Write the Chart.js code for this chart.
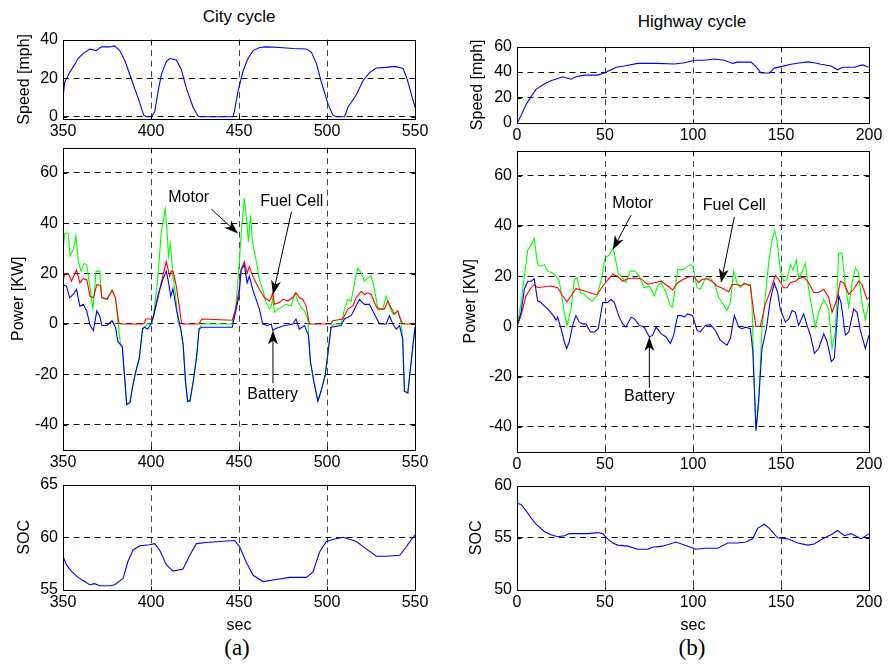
<!DOCTYPE html>
<html>
<head>
<meta charset="utf-8">
<script src="https://cdn.jsdelivr.net/npm/chart.js@4.4.1/dist/chart.umd.min.js"></script>
<style>
body{margin:0;background:#fff;width:888px;height:664px;position:relative;overflow:hidden;font-family:"Liberation Sans",Arial,sans-serif;}
canvas{position:absolute;}
.lbl{position:absolute;transform:translate(-50%,-50%);white-space:nowrap;font-size:17px;color:#000;}
.cap{font-family:"Liberation Serif","Times New Roman",serif;font-size:23px;}
</style>
</head>
<body>
<div class="lbl" style="left:239px;top:17px">City cycle</div>
<div class="lbl" style="left:692px;top:22px">Highway cycle</div>
<div class="lbl cap" style="left:237px;top:648px">(a)</div>
<div class="lbl cap" style="left:692px;top:648px">(b)</div>
<script>
// ---- city cycle (350..550 s) ----
const cityTicksX = [350, 400, 450, 500, 550];
const citySpeedTicks = [0, 20, 40];
const powerTicks = [-40, -20, 0, 20, 40, 60];
const citySocTicks = [55, 60, 65];

const citySpeed = [[350,9.8],[351,18],[353.8,22.9],[356.6,27],[358.5,30.2],[361.4,32.7],[365.2,35.1],[368.9,34.3],[371.8,36.2],[376.5,36.2],[379.4,36.7],[382.2,34.3],[385,29.4],[387.9,22],[390.7,14.7],[393.6,7.3],[395.8,0.8],[397.3,0],[400.2,0],[402.1,2.4],[404,13],[405.9,22],[408.7,28.6],[410.6,30.2],[414.4,29.4],[417.2,24.5],[420.1,14.7],[423.9,4.9],[426.7,0.3],[427.7,0],[446.6,0],[447.5,3.3],[449.4,13],[452.3,23.7],[455.1,30.2],[458,34.3],[461.7,35.9],[465.5,36.2],[473.1,35.9],[480.7,35.4],[488.3,35.1],[491.1,33.5],[493.9,27.8],[496.8,18],[500.6,6.5],[503.4,0.8],[505.3,0],[510,0],[511.9,4.9],[516.7,11.4],[520.5,18.8],[524.2,22.9],[528,25.3],[533.7,25.6],[538.4,26.1],[543.2,25],[545.5,19.6],[548,11.4],[550,4.9]];

const cityMotor = [[350,29],[351,36],[353,36],[354,27],[356,30],[357.3,35],[358.7,25],[360.2,21],[362,24],[363.5,23.5],[365,16],[367,6],[368.8,21],[370.8,21],[372,10.5],[375,10],[378,13.5],[379.8,10],[381.2,1],[382.7,-8.5],[383.7,-9],[384.6,-17.6],[386.2,-32],[388.1,-31],[389.4,-25.4],[391.3,-19],[393.3,-13.7],[395.2,-2],[396.2,-1.3],[398,0],[400.5,0],[401.5,4],[403.8,17.6],[405.8,36],[408.1,45.6],[409.2,36],[410,27],[411,32],[412.5,19],[413.8,12.4],[415.4,0.6],[416.9,-2],[418.3,-8.5],[419.6,-22.8],[420.8,-30.6],[422.1,-30.6],[424,-22.8],[426,-12.4],[427.3,-2],[428.8,0],[446,0],[448,5],[450,23],[451.3,36],[453,50],[454.5,40],[455.4,32.6],[456.5,43],[457.8,32],[459.7,25.4],[461.6,17.6],[463.5,13.7],[465.4,8.5],[467.3,5.9],[468.3,7],[469.2,10.4],[470.1,4.6],[472,5.9],[473.9,6.5],[476.8,7.8],[479.6,7.2],[481.9,12.4],[483.4,9],[485.3,6.5],[487.2,5.2],[489.1,2],[489.5,-4.6],[490.6,-15],[492.5,-22.8],[494.8,-30.6],[496.6,-26.7],[499,-20],[500.4,-12.4],[502.3,-1.3],[504,0],[508,0],[509.9,5.9],[511.8,9.8],[513.7,9],[515.6,16.3],[517.5,22.2],[519.4,20.2],[521.3,17],[523.2,18.3],[525.1,19],[527,13.7],[528.8,6.5],[531.7,5.9],[533.6,11],[535.5,7.2],[537.4,3.9],[539,4.6],[540.2,5.2],[541.5,2],[542.2,-0.6],[543,-5.9],[544,-26.7],[545.9,-27.4],[547.8,-15],[550,-1.3]];

const cityFuelCell = [[350,17],[351,20],[353,20],[354.8,17],[357.7,21.5],[359.6,16.3],[361.5,18],[363.5,17.6],[365.4,11],[367.3,10.4],[369.2,15.6],[371.2,15.3],[372.1,10.4],[375,9.8],[377.9,13.4],[379.8,10.4],[381.7,0.6],[382.5,0],[396,0],[397,2],[401,2],[403.8,9.8],[405.8,16.3],[408.7,24.8],[410.6,19],[411.5,21],[412.5,21],[414.4,15],[416.3,5.9],[417.3,0.6],[418,0],[427.3,0],[428.8,2],[446.2,1.5],[448,5.9],[450,13.5],[451.2,21.5],[453,24.8],[454.6,20.2],[455.9,22.8],[457.8,19],[459.7,16.3],[461.6,13.7],[464.5,10.4],[467.3,9.1],[468.3,10.4],[469.2,12.4],[470.1,7.8],[473,8.5],[474.9,9.8],[477.7,9.1],[480.5,10.4],[482.4,12.4],[484.3,10.4],[486.2,9.8],[488.1,7.2],[490,0],[502.3,0],[503.3,1.3],[509,2],[511.8,5.9],[514.6,7.2],[516.5,10.4],[519.4,13],[521.3,11.7],[523.2,12.4],[525.1,11.7],[527,8.5],[528.8,5.9],[532.6,5.9],[534.5,9.1],[536.4,6.5],[538.3,3.9],[540.2,5.2],[541.5,2.6],[543,0],[550,0]];

const cityBattery = [[350,15.6],[352,15],[353.8,10.4],[355.8,11.7],[357.7,13.7],[359.6,7],[361.5,7.8],[363.5,5.2],[365.4,-0.6],[367.3,-2.6],[369.2,5.2],[370.8,3.3],[372.1,-0.6],[375,-0.6],[377.9,1.3],[379.8,-1.3],[381.2,-7],[383.7,-9],[384.6,-17.6],[386.2,-32],[388.1,-31],[389.4,-25.4],[391.3,-19],[393.3,-13.7],[395.2,-2],[396.2,-1.3],[398.1,-2],[400,0],[401.5,3.3],[403.8,11],[406.7,17.6],[408.7,21],[410,16.3],[411.2,11],[412.5,14],[414.4,5.9],[416.9,-2],[418.3,-8.5],[419.6,-22.8],[420.8,-30.6],[422.1,-30.6],[424,-22.8],[426,-12.4],[427.3,-2],[428.8,-1.3],[446.2,-1.3],[448,4.6],[450,11],[451.2,21.5],[453,23.5],[454.6,16.3],[455.9,19],[457.8,13.7],[459.7,9.8],[461.6,5.9],[463.5,0],[466.3,-0.6],[468.3,0],[469.2,-2.6],[470.1,-2],[473,-1.3],[475.8,-0.6],[477.7,-0.4],[480.5,0],[482.4,2],[484.3,-2],[487.2,-0.6],[489.5,-4.6],[490.6,-15],[492.5,-22.8],[494.8,-30.6],[496.6,-26.7],[499,-20.2],[500.4,-12.4],[502.3,-1.3],[508,-0.6],[509.9,2],[513.7,3.3],[515.6,5.9],[518.4,9.8],[521.3,7.8],[524.1,7.8],[527,3.9],[529.8,0],[533.6,0],[535.5,3.3],[537.4,0],[539.3,-2],[541.2,-0.6],[543,-5.9],[544,-26.7],[545.9,-27.4],[547.8,-15],[550,-1.3]];

const citySoc = [[350,58.2],[351.9,57.4],[354.7,56.8],[358.5,56.2],[362.3,55.8],[365.2,55.5],[368,55.6],[370.8,55.4],[376.5,55.4],[379.4,55.5],[384.1,56.1],[386.9,57.7],[389.8,58.8],[393.6,59.2],[399.2,59.3],[402.1,59.4],[404.9,58.8],[408.7,57.4],[412.5,56.8],[418.2,57],[422,58.3],[425.8,59.4],[431.4,59.5],[439,59.6],[447.5,59.7],[450.4,59.1],[454.2,57.6],[458,56.4],[463.6,55.8],[471.2,56],[478.8,56.2],[488.3,56.2],[492,56.7],[495.8,58.6],[499.6,59.6],[503.4,59.8],[509.1,60],[516.7,59.6],[522.3,58.9],[528,58.2],[533.7,58.2],[541.3,58.3],[545.1,59.1],[548,59.8],[550,60.2]];

// ---- highway cycle (0..200 s) ----
const hwTicksX = [0, 50, 100, 150, 200];
const hwSpeedTicks = [0, 20, 40, 60];
const hwSocTicks = [50, 55, 60];

const hwSpeed = [[0,0],[2.3,5.7],[5.1,14.4],[8,20.7],[10.8,26.4],[15.5,30.6],[19.3,33.1],[23.1,34.9],[25.9,36.3],[30.7,34.4],[33.5,36.3],[38.3,37.6],[45.8,37.6],[49.6,39.3],[53.4,41.8],[56.3,43.8],[61,44.8],[68.6,46.8],[79.9,46.8],[89.4,46.3],[95.1,47.3],[100.8,49.3],[106.4,49.3],[112.1,50.3],[117.8,49.3],[122.5,46.8],[125.4,47.8],[133,47.8],[135.8,44.3],[138.6,39.3],[143.4,39.3],[146.2,43.1],[150,44.3],[155.7,46.1],[161.4,47.3],[165.2,48],[168.9,47.3],[172.7,46.1],[178.4,44.8],[182.2,41.8],[185,43.8],[191.7,43.8],[196.4,45.6],[200,43.8]];

const hwMotor = [[0,0],[2.3,9.5],[4.2,20],[6.1,30.5],[8,32.4],[9.8,35],[11.7,24.6],[13.6,23.9],[15.5,24.6],[17.4,22],[20.3,21.3],[22.2,20],[24,18],[25,14],[26.9,5.6],[28.4,0.4],[30.7,6.9],[32.6,18.7],[34.1,19.3],[36,13.5],[38.3,12.8],[41.1,10.8],[43,10.2],[45.5,12.2],[48.1,19.3],[50,27.2],[52.5,28.5],[54.4,31.1],[55.3,29.2],[57.6,20.9],[59.1,20],[61.9,17.4],[64.4,22],[67,22],[69.5,20],[72.3,15.4],[75.2,16.1],[78,12.2],[79.9,16.1],[81.8,17.4],[84.7,13.5],[87.1,8.2],[88.4,7.6],[91.3,22.6],[94.1,22.6],[97,23.9],[98.5,24.6],[100,23.9],[102.3,15.4],[104.2,14.8],[107,19.3],[109.9,19.3],[112.7,16.1],[114.6,11.6],[116.5,9.5],[119.3,6.3],[121.2,9.5],[123.1,22],[125,17.4],[126.9,15.4],[128.8,17.4],[130.7,16.7],[132.6,16.7],[133.5,9.5],[134.5,-16.6],[135.8,-41.4],[137.3,-29.7],[139.2,-0.9],[141.1,12.2],[143,25.2],[144.9,34.4],[146.4,38.3],[147.7,34.4],[149.6,22.6],[151.5,18],[153.4,18.7],[155.3,24.6],[156.8,22.6],[158.7,26.5],[160,19.3],[161.9,21.3],[163.8,25.2],[165.2,17.4],[166.7,10.8],[169.5,-0.3],[171.4,5.6],[174.3,10.8],[177.1,6.9],[179,-8.8],[180.9,-2],[182.8,29.2],[184.7,29.2],[186.6,16.1],[188.5,7.8],[190.4,17.4],[192.3,23.3],[194.1,21.3],[196,9.5],[197.9,2.6],[200,9.5]];

const hwFuelCell = [[0,0],[2.3,4.3],[5.1,12.2],[8,15.4],[9.8,16.7],[11.7,15.4],[15.5,15.8],[19.3,16.1],[23.1,15.4],[25.9,12.2],[28.4,9.8],[30.7,12.2],[33.5,15],[36.4,14.5],[40.2,13.7],[43.9,12.8],[45.8,12.8],[48.7,16.1],[51.5,18.4],[54.4,20.7],[57.2,20],[60,18],[62.9,19],[66.7,19.3],[70.5,19],[74.2,16.7],[78,17.4],[81.8,18],[85.6,16.1],[88.4,14.5],[91.3,17.4],[95.1,19],[98.9,20],[100.4,20],[103.2,17.4],[105.1,18.7],[108,19],[110.8,18],[113.7,16.1],[117.4,15],[120.3,13.7],[122.2,16.7],[125,16.7],[126.9,16.1],[129.8,17],[132.6,16.1],[134.5,5.6],[135.8,0],[138.3,0],[141.1,8.9],[144,14.1],[146.8,20.3],[148.7,18.7],[151.5,15.4],[153.4,15.4],[155.3,17.4],[158.2,18],[160,19],[162.9,19.7],[165.7,17.4],[168.6,13.5],[171.4,13.5],[174.3,14.8],[177.1,11.5],[179,5.6],[181.8,10.8],[183.7,18],[185.6,17.4],[188.5,12.8],[191.3,14.8],[194.1,18],[196,16.7],[198.9,10.8],[200,11.5]];

const hwBattery = [[0,0],[2.3,5.6],[4.2,14.8],[6.1,18],[8,18],[9.8,19],[11.7,10.2],[13.6,9.5],[15.5,8.2],[18.4,6.3],[21.2,3.7],[22.2,2.4],[23.1,3.7],[25,-0.9],[26.9,-6.1],[28.2,-8.8],[29.7,-6.1],[31.6,0.4],[33.5,4.3],[35.4,1.7],[37.3,1],[39.2,1],[41.7,-2.2],[43.9,-2.2],[46.2,-0.9],[48.7,9.5],[51.5,9.5],[53.4,10.8],[55.3,9.5],[58.1,3.7],[60,1],[61.9,-0.3],[64.8,3.7],[66.7,3],[69.5,0.4],[72.3,-0.3],[75.2,-4.2],[77.1,-3.5],[79,-0.3],[81.8,-2.9],[84.7,-4.2],[87.1,-6.8],[89,-3.5],[91.3,4.3],[93.2,4.3],[95.1,3.7],[97,5],[99.8,4.3],[102.3,-1.6],[104.2,-2.2],[107,0.4],[109.9,0.7],[112.7,-1.6],[115.5,-5.5],[119.3,-7.5],[121.2,-4.8],[123.5,4.3],[126,-0.3],[127.9,-0.9],[129.8,-0.3],[132.6,-0.9],[134,-10],[135.8,-41.4],[137.3,-29.7],[139.2,-8.8],[141.7,-0.9],[144,10.8],[146.2,17.4],[148.1,13.5],[149.6,6.9],[152.5,1.7],[154.4,3],[156.3,6.3],[158.2,5.6],[160,0.4],[162.9,5],[164.8,0.4],[166.7,-3.5],[169,-10.7],[171.4,-8.8],[174.3,-2.9],[176.2,-6.1],[178.6,-14],[180.3,-12.7],[182.8,12.2],[184.1,9.5],[186.6,-3.5],[188.5,-2.2],[191.3,6.9],[193.2,5.6],[195.1,-1.6],[197.9,-8.8],[200,-3.5]];

const hwSoc = [[0,58.3],[2.3,58.2],[5.1,57.6],[8,56.9],[10.8,56.3],[15.5,55.6],[19.3,55.3],[23.1,55.1],[26.9,55.2],[29.7,55.4],[34.5,55.4],[40.2,55.4],[45.8,55.5],[48.7,55.4],[51.5,54.9],[54.4,54.5],[57.2,54.3],[62.9,54.2],[68.6,53.9],[74.2,53.9],[77.1,54.1],[82.8,54.2],[90.3,54.6],[95.1,54.3],[101.7,53.9],[106.4,54],[114,54],[119.7,54.5],[125.4,54.5],[130.1,54.6],[133.9,54.9],[136.7,55.9],[140.5,56.3],[143.4,55.9],[148.1,55],[153.8,54.9],[159.5,54.5],[165.2,54.3],[168.9,54.4],[173.7,54.9],[178.4,55.3],[182.2,55.7],[186,55.2],[189.8,55.4],[195.5,54.9],[200,55.4]];

const BLUE = '#0000ff', RED = '#ff0000', GREEN = '#00ff00';
const FONT = '"Liberation Sans", Arial, sans-serif';

Chart.defaults.font.family = FONT;
Chart.defaults.font.size = 16;
Chart.defaults.color = '#000';

// arrows + labels, inward ticks and the closed box around the plot area
const matlabPlugin = {
  id: 'matlab',
  afterDatasetsDraw(chart, args, opts) {
    const ctx = chart.ctx, sx = chart.scales.x, sy = chart.scales.y;
    ctx.save();
    ctx.fillStyle = '#000';
    ctx.strokeStyle = '#000';
    ctx.lineWidth = 1;
    ctx.font = '16px ' + FONT;
    ctx.textAlign = 'center';
    ctx.textBaseline = 'middle';
    (opts.notes || []).forEach(n => {
      ctx.fillText(n.text, sx.getPixelForValue(n.at[0]), sy.getPixelForValue(n.at[1]));
      const x0 = sx.getPixelForValue(n.from[0]), y0 = sy.getPixelForValue(n.from[1]);
      const x1 = sx.getPixelForValue(n.to[0]), y1 = sy.getPixelForValue(n.to[1]);
      const a = Math.atan2(y1 - y0, x1 - x0), c = Math.cos(a), s = Math.sin(a);
      ctx.beginPath();
      ctx.moveTo(x0, y0);
      ctx.lineTo(x1 - 9 * c, y1 - 9 * s);
      ctx.stroke();
      ctx.beginPath();
      ctx.moveTo(x1, y1);
      ctx.lineTo(x1 - 14 * c + 5 * s, y1 - 14 * s - 5 * c);
      ctx.lineTo(x1 - 10 * c, y1 - 10 * s);
      ctx.lineTo(x1 - 14 * c - 5 * s, y1 - 14 * s + 5 * c);
      ctx.closePath();
      ctx.fill();
    });
    ctx.restore();
  },
  afterDraw(chart) {
    const {ctx, chartArea: a} = chart, sx = chart.scales.x, sy = chart.scales.y;
    const l = Math.round(a.left) + 0.5, t = Math.round(a.top) + 0.5;
    const r = Math.round(a.right) + 0.5, b = Math.round(a.bottom) + 0.5;
    ctx.save();
    ctx.strokeStyle = '#000';
    ctx.lineWidth = 1;
    ctx.beginPath();
    sx.ticks.forEach(tk => {
      const px = Math.round(sx.getPixelForValue(tk.value)) + 0.5;
      ctx.moveTo(px, b); ctx.lineTo(px, b - 4);
      ctx.moveTo(px, t); ctx.lineTo(px, t + 4);
    });
    sy.ticks.forEach(tk => {
      const py = Math.round(sy.getPixelForValue(tk.value)) + 0.5;
      ctx.moveTo(l, py); ctx.lineTo(l + 4, py);
      ctx.moveTo(r, py); ctx.lineTo(r - 4, py);
    });
    ctx.stroke();
    ctx.strokeRect(l, t, r - l, b - t);
    ctx.restore();
  }
};

function pts(arr) {
  return arr.map(p => ({x: p[0], y: p[1]}));
}

function line(arr, color) {
  return {data: pts(arr), borderColor: color, borderWidth: 1.1, pointRadius: 0, tension: 0, fill: false};
}

// dashed grid only inside the box; the edges are drawn by the frame
function innerGrid(min, max, color) {
  return c => (c.tick && (c.tick.value <= min || c.tick.value >= max)) ? 'rgba(0,0,0,0)' : color;
}

function makePanel(p) {
  const padTop = 10;
  const w = 444;
  const h = (p.bottom - p.top) + padTop + p.xh;
  const cv = document.createElement('canvas');
  cv.width = w;
  cv.height = h;
  cv.style.left = p.left + 'px';
  cv.style.top = (p.top - padTop) + 'px';
  cv.style.width = w + 'px';
  cv.style.height = h + 'px';
  document.body.appendChild(cv);

  const border = {display: false, dash: [6, 4.5]};

  return new Chart(cv, {
    type: 'line',
    data: {datasets: p.datasets},
    options: {
      responsive: false,
      animation: false,
      devicePixelRatio: 1,
      layout: {padding: {top: padTop, right: p.padR, bottom: 0, left: 0}},
      plugins: {
        legend: {display: false},
        tooltip: {enabled: false},
        matlab: {notes: p.notes || []}
      },
      scales: {
        x: {
          type: 'linear', min: p.xMin, max: p.xMax,
          afterBuildTicks: s => { s.ticks = p.xTicks.map(v => ({value: v})); },
          afterFit: s => { s.height = p.xh; },
          ticks: {padding: 3, maxRotation: 0, autoSkip: false},
          grid: {drawTicks: false, color: innerGrid(p.xMin, p.xMax, '#444'), lineWidth: 1},
          border: border,
          title: p.xTitle ? {display: true, text: p.xTitle, padding: {top: 0, bottom: 0}} : {display: false}
        },
        y: {
          type: 'linear', min: p.yMin, max: p.yMax,
          afterBuildTicks: s => { s.ticks = p.yTicks.map(v => ({value: v})); },
          afterFit: s => { s.width = p.wy; },
          ticks: {padding: 5, autoSkip: false},
          grid: {drawTicks: false, color: innerGrid(p.yMin, p.yMax, '#111'), lineWidth: 1},
          border: border,
          title: {display: true, text: p.yTitle, padding: {top: p.ytPad, bottom: 0}}
        }
      }
    },
    plugins: [matlabPlugin]
  });
}

const L = {left: 0, wy: 63, padR: 29, xMin: 350, xMax: 550, xTicks: cityTicksX};
const R = {left: 444, wy: 73, padR: 19, xMin: 0, xMax: 200, xTicks: hwTicksX};

makePanel(Object.assign({}, L, {
  top: 35, bottom: 119, xh: 24, yMin: -1.2, yMax: 40, yTicks: citySpeedTicks,
  yTitle: 'Speed [mph]', ytPad: 15,
  datasets: [line(citySpeed, BLUE)]
}));

makePanel(Object.assign({}, L, {
  top: 143, bottom: 450, xh: 24, yMin: -50, yMax: 70, yTicks: powerTicks,
  yTitle: 'Power [KW]', ytPad: 9,
  datasets: [line(cityBattery, BLUE), line(cityFuelCell, RED), line(cityMotor, GREEN)],
  notes: [
    {text: 'Motor', at: [421.4, 50.3], from: [434.3, 45.6], to: [449.4, 35.9]},
    {text: 'Fuel Cell', at: [480, 48.4], from: [479.8, 44.5], to: [469.3, 11.7]},
    {text: 'Battery', at: [469.1, -27.9], from: [469.3, -23.5], to: [469.3, -2.6]}
  ]
}));

makePanel(Object.assign({}, L, {
  top: 480, bottom: 590, xh: 45, yMin: 55, yMax: 65, yTicks: citySocTicks,
  yTitle: 'SOC', ytPad: 15, xTitle: 'sec',
  datasets: [line(citySoc, BLUE)]
}));

makePanel(Object.assign({}, R, {
  top: 42, bottom: 123, xh: 24, yMin: 0, yMax: 60, yTicks: hwSpeedTicks,
  yTitle: 'Speed [mph]', ytPad: 24,
  datasets: [line(hwSpeed, BLUE)]
}));

makePanel(Object.assign({}, R, {
  top: 146, bottom: 452, xh: 24, yMin: -50, yMax: 70, yTicks: powerTicks,
  yTitle: 'Power [KW]', ytPad: 17,
  datasets: [line(hwBattery, BLUE), line(hwFuelCell, RED), line(hwMotor, GREEN)],
  notes: [
    {text: 'Motor', at: [65.7, 48.9], from: [64.8, 44.3], to: [54.4, 30.5]},
    {text: 'Fuel Cell', at: [123.5, 48.2], from: [123.5, 43.6], to: [115.9, 17.4]},
    {text: 'Battery', at: [75.2, -27.8], from: [75.2, -24.5], to: [75.2, -4.2]}
  ]
}));

makePanel(Object.assign({}, R, {
  top: 481, bottom: 590, xh: 45, yMin: 50, yMax: 60, yTicks: hwSocTicks,
  yTitle: 'SOC', ytPad: 23, xTitle: 'sec',
  datasets: [line(hwSoc, BLUE)]
}));
</script>
</body>
</html>
